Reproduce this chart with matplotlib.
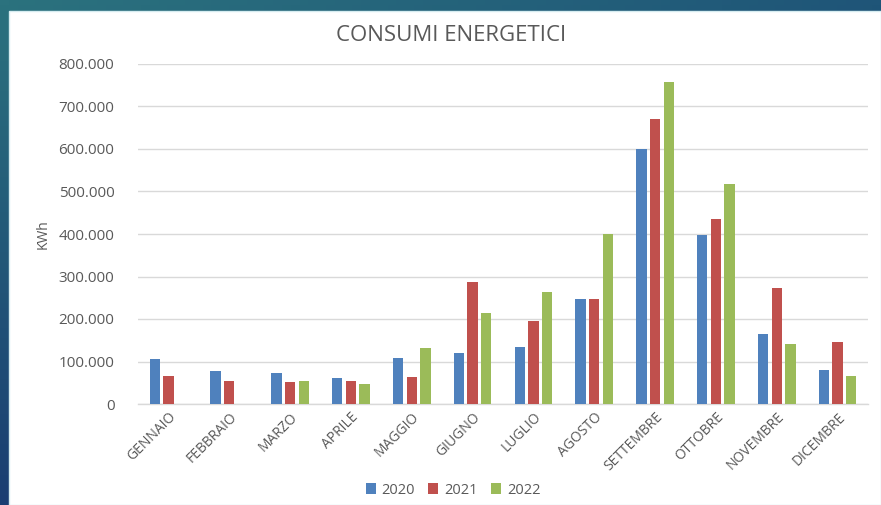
import numpy as np
import matplotlib
matplotlib.use("Agg")
import matplotlib.pyplot as plt
from matplotlib.ticker import FuncFormatter
from matplotlib.patches import Rectangle

months = ["GENNAIO", "FEBBRAIO", "MARZO", "APRILE", "MAGGIO", "GIUGNO",
          "LUGLIO", "AGOSTO", "SETTEMBRE", "OTTOBRE", "NOVEMBRE", "DICEMBRE"]
v2020 = [106000, 78000, 73000, 61000, 108000, 121000, 135000, 247000, 599000, 397000, 164000, 81000]
v2021 = [66000, 54000, 52000, 54000, 64000, 286000, 196000, 247000, 671000, 435000, 273000, 147000]
v2022 = [np.nan, np.nan, 53000, 47000, 132000, 215000, 264000, 400000, 758000, 517000, 141000, 65000]
series = [("2020", v2020, "#4F81BD"), ("2021", v2021, "#C0504D"), ("2022", v2022, "#9BBB59")]

plt.rcParams['font.family'] = ['Open Sans', 'DejaVu Sans']

W, H = 881, 505
fig = plt.figure(figsize=(W/100, H/100), dpi=100)

# background gradient
bg = fig.add_axes([0, 0, 1, 1])
bg.set_axis_off()
yy, xx = np.mgrid[0:1:100j, 0:1:100j]
c_tl = np.array([0x2b, 0x72, 0x7e]) / 255
c_tr = np.array([0x1f, 0x55, 0x78]) / 255
c_bl = np.array([0x1a, 0x3e, 0x72]) / 255
c_br = np.array([0x1a, 0x40, 0x70]) / 255
img = (c_tl[None, None, :] * ((1-xx)*(1-yy))[..., None] + c_tr[None, None, :] * (xx*(1-yy))[..., None]
       + c_bl[None, None, :] * ((1-xx)*yy)[..., None] + c_br[None, None, :] * (xx*yy)[..., None])
bg.imshow(img, extent=[0, 1, 0, 1], aspect='auto', origin='upper')
bg.add_patch(Rectangle((9/W, 0), 1 - 9/W, 1 - 11/H, transform=bg.transAxes,
                       facecolor='white', edgecolor='#d6ecf0', linewidth=1))
bg.set_xlim(0, 1); bg.set_ylim(0, 1)

ax = fig.add_axes([138/W, 101/H, 730/W, 340/H])
ax.set_facecolor('none')
x = np.arange(len(months))
off = 0.225
bw = 0.17
for i, (name, vals, col) in enumerate(series):
    ax.bar(x + (i-1)*off, vals, width=bw, color=col, label=name, zorder=3)

ax.set_xlim(-0.5, len(months)-0.5)
ax.set_ylim(0, 800000)
ax.set_yticks(np.arange(0, 800001, 100000))
ax.yaxis.set_major_formatter(FuncFormatter(lambda v, p: f"{int(v):,}".replace(",", ".")))
ax.grid(axis='y', color='#d9d9d9', linewidth=1, zorder=0)
for s in ['top', 'right', 'left']:
    ax.spines[s].set_visible(False)
ax.spines['bottom'].set_color('#d9d9d9')
ax.spines['bottom'].set_linewidth(1)
ax.tick_params(axis='y', length=0, pad=17, labelsize=11, labelcolor='#595959')
ax.tick_params(axis='x', length=0, pad=4, labelsize=10, labelcolor='#595959')
ax.set_xticks(x)
ax.set_xticklabels(months, rotation=45, ha='right', rotation_mode='anchor')
ax.set_ylabel("KWh", color='#595959', fontsize=10, labelpad=6)

fig.text(451/W, 1 - 35/H, "CONSUMI ENERGETICI", ha='center', va='center',
         fontsize=16, color='#595959')

leg = fig.legend(loc='center', bbox_to_anchor=(453/W, 1 - 490/H), ncol=3, frameon=False,
                 fontsize=10.5, handlelength=0.7, handleheight=0.7, columnspacing=0.9,
                 handletextpad=0.4)
for t in leg.get_texts():
    t.set_color('#595959')

fig.savefig("out.png", dpi=100)
